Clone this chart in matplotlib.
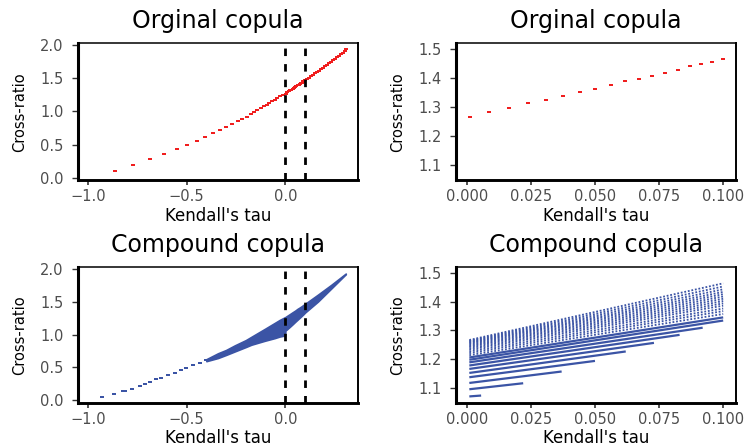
import matplotlib
matplotlib.use("Agg")
import matplotlib.pyplot as plt

# ---------------- data ----------------
orig_tau = [-0.865, -0.769, -0.683, -0.612, -0.547, -0.496, -0.445, -0.405, -0.364,
            -0.332, -0.299, -0.268, -0.241, -0.218, -0.195, -0.175, -0.158, -0.142,
            -0.125, -0.109, -0.094, -0.081, -0.067, -0.054, -0.040, -0.027, -0.013,
            0.0012, 0.0088, 0.0166, 0.0240, 0.0310, 0.0377, 0.0443, 0.0501, 0.0564,
            0.0617, 0.0671, 0.0723, 0.0774, 0.0825, 0.0871, 0.0914, 0.0958, 0.1000,
            0.110, 0.120, 0.130, 0.140, 0.150, 0.160, 0.170, 0.180, 0.190, 0.200,
            0.210, 0.220, 0.230, 0.240, 0.250, 0.260, 0.270, 0.280, 0.290, 0.300, 0.308]
orig_cr = [0.100, 0.190, 0.280, 0.355, 0.430, 0.490, 0.550, 0.610, 0.670,
           0.720, 0.760, 0.815, 0.855, 0.890, 0.920, 0.960, 0.990, 1.020,
           1.050, 1.075, 1.100, 1.125, 1.150, 1.175, 1.200, 1.225, 1.250,
           1.266, 1.283, 1.297, 1.312, 1.325, 1.339, 1.353, 1.363, 1.377,
           1.388, 1.398, 1.408, 1.419, 1.429, 1.440, 1.448, 1.457, 1.464,
           1.485, 1.505, 1.525, 1.546, 1.567, 1.588, 1.609, 1.631, 1.652, 1.674,
           1.696, 1.718, 1.741, 1.764, 1.787, 1.810, 1.834, 1.858, 1.882, 1.906, 1.928]

# compound copula: isolated points on the left
comp_dot_tau = [-0.926, -0.870, -0.822, -0.812, -0.776, -0.737, -0.712, -0.686, -0.653,
                -0.628, -0.594, -0.560, -0.529, -0.501, -0.467, -0.433, -0.400]
comp_dot_cr = [0.050, 0.100, 0.138, 0.142, 0.175, 0.220, 0.246, 0.276, 0.317,
               0.341, 0.382, 0.416, 0.457, 0.492, 0.532, 0.567, 0.608]

# compound copula: dense band (upper and lower envelope)
band_tau = [-0.400, -0.341, -0.300, -0.256, -0.200, -0.172, -0.104, -0.054, -0.028,
            -0.002, 0.001, 0.0056, 0.022, 0.037, 0.050, 0.062, 0.073, 0.083, 0.092,
            0.100, 0.165, 0.233, 0.306]
band_upper = [0.625, 0.715, 0.765, 0.835, 0.915, 0.965, 1.085, 1.175, 1.222,
              1.262, 1.266, 1.276, 1.308, 1.338, 1.363, 1.390, 1.410, 1.430, 1.450,
              1.466, 1.605, 1.755, 1.925]
band_lower = [0.595, 0.643, 0.690, 0.743, 0.810, 0.845, 0.905, 0.945, 0.970,
              0.985, 1.066, 1.072, 1.115, 1.156, 1.193, 1.226, 1.256, 1.284, 1.309,
              1.334, 1.500, 1.700, 1.915]

# compound copula zoom: point rows (start and end of each row)
row_start_tau = [0.001] * 23
row_start_cr = [1.069, 1.094, 1.116, 1.136, 1.151, 1.165, 1.177, 1.188,
                1.197, 1.205, 1.213, 1.220, 1.226, 1.232, 1.237, 1.242,
                1.246, 1.250, 1.254, 1.257, 1.260, 1.263, 1.266]
row_end_tau = [0.0056, 0.022, 0.037, 0.050, 0.062, 0.073, 0.083, 0.092,
               0.100, 0.100, 0.100, 0.100, 0.100, 0.100, 0.100, 0.100,
               0.100, 0.100, 0.100, 0.100, 0.100, 0.100, 0.100]
row_end_cr = [1.072, 1.115, 1.156, 1.193, 1.226, 1.256, 1.284, 1.309,
              1.334, 1.345, 1.357, 1.367, 1.376, 1.386, 1.394, 1.402,
              1.410, 1.418, 1.426, 1.434, 1.443, 1.453, 1.464]

vline_tau = [0.0, 0.1]

titles = ["Orginal copula", "Orginal copula", "Compound copula", "Compound copula"]
xlabel = "Kendall's tau"
ylabel = "Cross-ratio"

wide_xticks = [-1.0, -0.5, 0.0]
wide_xticklabels = ["\u22121.0", "\u22120.5", "0.0"]
wide_yticks = [0.0, 0.5, 1.0, 1.5, 2.0]
wide_yticklabels = ["0.0", "0.5", "1.0", "1.5", "2.0"]
zoom_xticks = [0.0, 0.025, 0.05, 0.075, 0.1]
zoom_xticklabels = ["0.000", "0.025", "0.050", "0.075", "0.100"]
zoom_yticks = [1.1, 1.2, 1.3, 1.4, 1.5]
zoom_yticklabels = ["1.1", "1.2", "1.3", "1.4", "1.5"]

# ---------------- style ----------------
RED = "#F01E1E"
BLUE = "#3B54A5"
plt.rcParams["font.family"] = ["DejaVu Sans"]

W, H = 750, 448
fig = plt.figure(figsize=(W / 100, H / 100), dpi=100)


def px_axes(x0, y0, x1, y1):
    return fig.add_axes([x0 / W, 1 - y1 / H, (x1 - x0) / W, (y1 - y0) / H])


ax_tl = px_axes(78, 43, 358, 180.5)
ax_tr = px_axes(456, 43, 736, 180.5)
ax_bl = px_axes(78, 267, 358, 403)
ax_br = px_axes(456, 267, 736, 403)

rect = [(-1.5, -1.0), (1.5, -1.0), (1.5, 1.0), (-1.5, 1.0), (-1.5, -1.0)]


def style(ax, title, xt, xtl, yt, ytl, xlim, ylim):
    ax.set_xlim(*xlim)
    ax.set_ylim(*ylim)
    ax.set_xticks(xt)
    ax.set_xticklabels(xtl)
    ax.set_yticks(yt)
    ax.set_yticklabels(ytl)
    ax.set_title(title, fontsize=17, pad=10.5, color="black")
    ax.set_xlabel(xlabel, fontsize=12, color="black")
    ax.set_ylabel(ylabel, fontsize=10.5, color="black")
    ax.xaxis.set_label_coords(0.5, -0.19)
    ax.yaxis.set_label_coords(-0.18, 0.5)
    ax.tick_params(axis="x", length=3.5, width=1.2, color="#333333",
                   labelsize=10.5, labelcolor="#4D4D4D", pad=2.8)
    ax.tick_params(axis="y", length=4.5, width=1.0, color="#333333",
                   labelsize=10.5, labelcolor="#4D4D4D", pad=5.8)
    ax.spines["left"].set_linewidth(2.2)
    ax.spines["bottom"].set_linewidth(2.1)
    ax.spines["top"].set_linewidth(1.1)
    ax.spines["right"].set_linewidth(1.4)
    for s in ax.spines.values():
        s.set_color("black")
    ax.set_facecolor("white")


def vlines(ax):
    for v in vline_tau:
        ax.axvline(v, color="black", lw=2.0, ls=(0, (2.7, 2.9)), zorder=5)


WIDE_X = (-1.05, 0.368)
WIDE_Y = (-0.04, 2.025)
ZOOM_X = (-0.0042, 0.105)
ZOOM_Y = (1.046, 1.521)

# top-left: original copula, full range
ax_tl.plot(orig_tau, orig_cr, ls="none", marker=rect, ms=3.2, color=RED, mew=0)
vlines(ax_tl)
style(ax_tl, titles[0], wide_xticks, wide_xticklabels, wide_yticks, wide_yticklabels, WIDE_X, WIDE_Y)

# top-right: original copula, zoom
ax_tr.plot(orig_tau, orig_cr, ls="none", marker=rect, ms=3.2, color=RED, mew=0)
style(ax_tr, titles[1], zoom_xticks, zoom_xticklabels, zoom_yticks, zoom_yticklabels, ZOOM_X, ZOOM_Y)

# bottom-left: compound copula, full range
ax_bl.fill_between(band_tau, band_lower, band_upper, color=BLUE, lw=1.2, edgecolor=BLUE)
ax_bl.plot(comp_dot_tau, comp_dot_cr, ls="none", marker=rect, ms=3.2, color=BLUE, mew=0)
vlines(ax_bl)
style(ax_bl, titles[2], wide_xticks, wide_xticklabels, wide_yticks, wide_yticklabels, WIDE_X, WIDE_Y)

# bottom-right: compound copula, zoom
for i, (x0, y0, x1, y1) in enumerate(zip(row_start_tau, row_start_cr, row_end_tau, row_end_cr)):
    if i < 10:
        ax_br.plot([x0, x1], [y0, y1], color=BLUE, lw=1.6, solid_capstyle="butt")
    else:
        ax_br.plot([x0, x1], [y0, y1], color=BLUE, lw=1.3, ls=(0, (1.0, 1.0)))
style(ax_br, titles[3], zoom_xticks, zoom_xticklabels, zoom_yticks, zoom_yticklabels, ZOOM_X, ZOOM_Y)

fig.savefig("out.png", dpi=100, facecolor="white")
